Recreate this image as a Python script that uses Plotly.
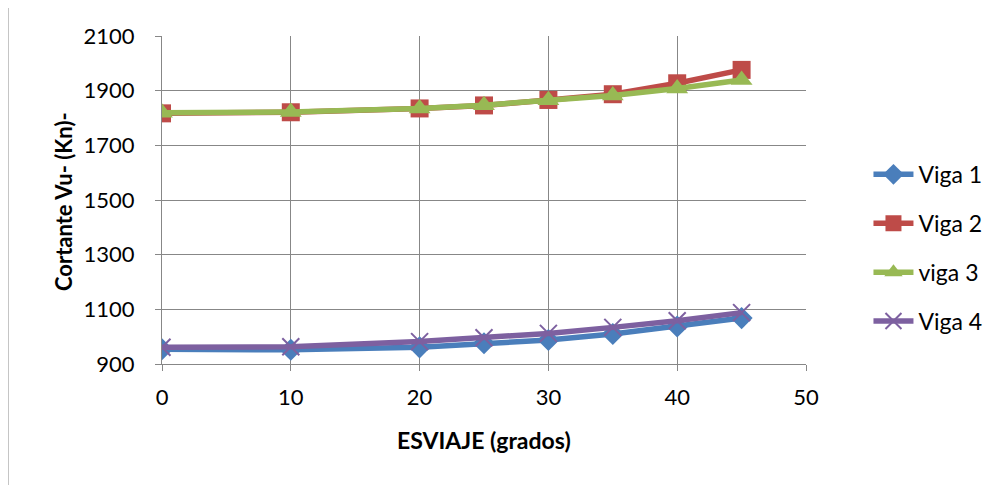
import plotly.graph_objects as go

esviaje = [0, 10, 20, 25, 30, 35, 40, 45]
viga1 = [954, 952, 961, 976, 988, 1010, 1037, 1068]
viga2 = [1817, 1821, 1835, 1846, 1866, 1887, 1927, 1976]
viga3 = [1819, 1822, 1835, 1847, 1865, 1882, 1908, 1939]
viga4 = [961, 963, 982, 996, 1012, 1034, 1058, 1088]

names = ["Viga 1", "Viga 2", "viga 3", "Viga 4"]
series = [viga1, viga2, viga3, viga4]
colors = ["#4A7EBB", "#BE4B48", "#98B954", "#7D60A0"]
symbols = ["diamond", "square", "triangle-up", "x-thin"]
sizes = [17, 18, 19, 17]

FONT = "Lato, 'Open Sans', sans-serif"

fig = go.Figure()
for i, (n, s) in enumerate(zip(names, series)):
    mk = dict(symbol=symbols[i], size=sizes[i], color=colors[i])
    if symbols[i] == "x-thin":
        mk["line"] = dict(color=colors[i], width=2)
    fig.add_trace(go.Scatter(
        x=esviaje, y=s, name=n, mode="lines+markers",
        line=dict(color=colors[i], width=5.5),
        marker=mk, legendgroup=n,
    ))

grid = "#878787"
fig.update_layout(
    width=997, height=477,
    margin=dict(l=154, r=199, t=28, b=121),
    paper_bgcolor="white", plot_bgcolor="white",
    font=dict(family=FONT, size=22, color="black"),
    showlegend=True,
    legend=dict(x=1.097, y=0.354, xanchor="left", yanchor="middle",
                font=dict(size=23), tracegroupgap=16, itemwidth=40,
                bgcolor="rgba(0,0,0,0)"),
    xaxis=dict(range=[0, 50], dtick=10, tick0=0, showgrid=True, gridcolor=grid,
               gridwidth=1, showline=True, linecolor=grid, linewidth=1,
               ticks="outside", ticklen=6, tickcolor=grid, zeroline=False,
               ticklabelstandoff=8, mirror=False),
    yaxis=dict(range=[900, 2100], dtick=200, tick0=900, showgrid=True, gridcolor=grid,
               gridwidth=1, showline=True, linecolor=grid, linewidth=1,
               ticks="outside", ticklen=6, tickcolor=grid, zeroline=False,
               ticklabelstandoff=16),
    annotations=[
        dict(text="<b>ESVIAJE (grados)</b>", xref="paper", yref="paper",
             x=0.5, y=(364 - 440) / 328, xanchor="center", yanchor="middle",
             showarrow=False, font=dict(size=23)),
        dict(text="<b>Cortante Vu- (Kn)-</b>", xref="paper", yref="paper",
             x=(63 - 162) / 644, y=(364 - 201) / 328, xanchor="center",
             yanchor="middle", textangle=-90, showarrow=False,
             font=dict(size=22)),
    ],
    shapes=[dict(type="rect", xref="paper", yref="paper",
                 x0=(8 - 162) / 644, x1=(1030 - 162) / 644,
                 y0=(364 - 510) / 328, y1=(364 - 6.5) / 328,
                 line=dict(color="#8C8C8C", width=1), layer="below")],
)
fig.write_html("out.html")
